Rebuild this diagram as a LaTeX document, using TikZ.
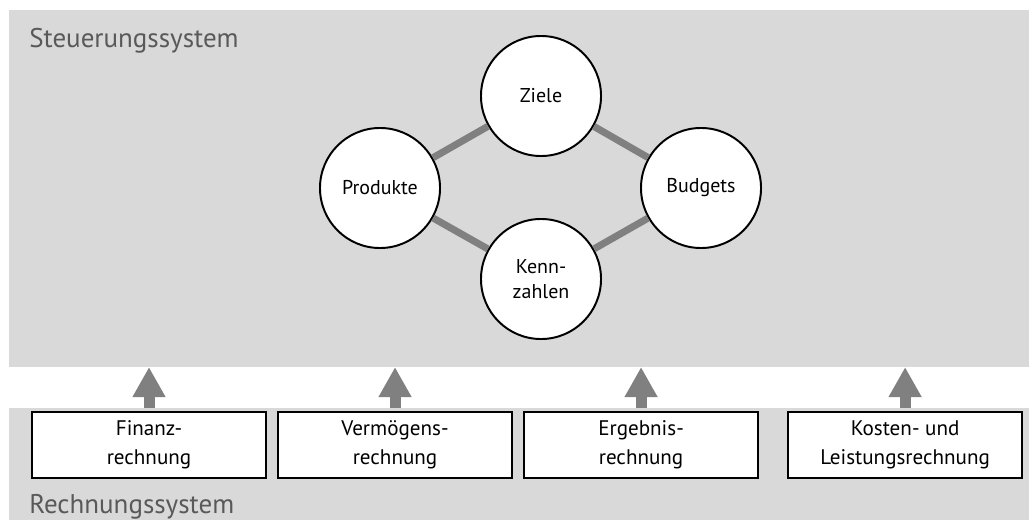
\documentclass[tikz,border=0pt]{standalone}
\usepackage{fontspec}
\setmainfont{PT Sans}
\usetikzlibrary{positioning,arrows.meta}
\definecolor{fondo}{HTML}{D9D9D9}
\definecolor{gris}{HTML}{808080}
\definecolor{titulo}{HTML}{595959}

\begin{document}
\begin{tikzpicture}[
		x=0.025cm, y=-0.025cm,
		node distance = 0.25cm and 0.25cm,
		panel/.style = {fill=fondo, draw=none, rectangle, anchor=north west, inner sep=0pt, outer sep=0pt, minimum width=25.5cm},
		kreis/.style = {draw, circle, line width=1.4pt, minimum size=3cm, inner sep=0pt, align=center, fill=white, font=\fontsize{14.2}{17.7}\selectfont},
		block/.style = {draw, rectangle, line width=1.4pt, minimum width=5.85cm, minimum height=1.65cm, align=center, fill=white, font=\fontsize{15}{20.6}\selectfont},
		titel/.style = {anchor=base west, inner sep=0pt, text=titulo, font=\fontsize{19.2}{23}\selectfont},
		line/.style = {draw=gris, line width=5pt},
		pfeil/.style = {draw=gris, line width=0.275cm, -{Triangle[width=0.775cm, length=0.75cm]}}
	]
	\useasboundingbox (0,0) rectangle (1029,520);

	% Fondos
	\node [panel, minimum height=8.925cm] (steuer) at (9,10) {};
	\node [panel, minimum height=2.8cm] (rechnung) at (9,408) {};
	\node [titel] (steuertitel) at (29,47) {Steuerungssystem};
	\node [titel] (rechnungtitel) at (29,513) {Rechnungssystem};

	% Círculos
	\node [kreis] (ziele) at (541,96) {Ziele};
	\node [kreis] (produkte) at (380,188) {Produkte};
	\node [kreis] (budgets) at (701,188) {Budgets};
	\node [kreis] (kennzahlen) at (541,279) {Kenn-\\zahlen};

	% Líneas
	\draw [line] (produkte) -- (ziele);
	\draw [line] (ziele) -- (budgets);
	\draw [line] (produkte) -- (kennzahlen);
	\draw [line] (kennzahlen) -- (budgets);

	% Bloques
	\node [block] (finanz) at (149,445) {Finanz-\\rechnung};
	\node [block, right=of finanz] (vermoegen) {Vermögens-\\rechnung};
	\node [block, right=of vermoegen] (ergebnis) {Ergebnis-\\rechnung};
	\node [block, right=0.7cm of ergebnis] (kosten) {Kosten- und\\Leistungsrechnung};

	% Flechas
	\draw [pfeil] (finanz.north |- rechnung.north) -- (finanz.north |- steuer.south);
	\draw [pfeil] (vermoegen.north |- rechnung.north) -- (vermoegen.north |- steuer.south);
	\draw [pfeil] (ergebnis.north |- rechnung.north) -- (ergebnis.north |- steuer.south);
	\draw [pfeil] (kosten.north |- rechnung.north) -- (kosten.north |- steuer.south);
\end{tikzpicture}
\end{document}
